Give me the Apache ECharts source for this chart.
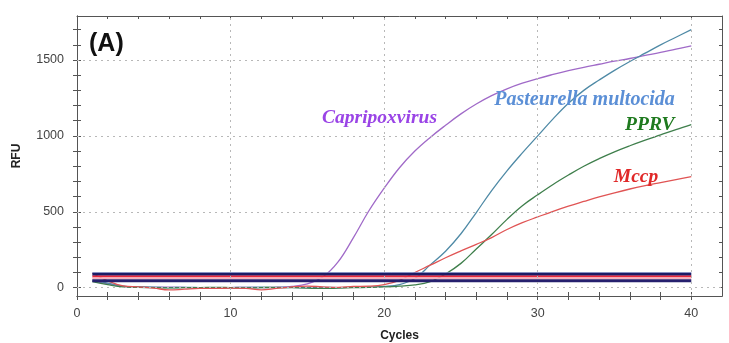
<!DOCTYPE html>
<html>
<head>
<meta charset="utf-8">
<script src="https://cdn.jsdelivr.net/npm/echarts@6/dist/echarts.min.js"></script>
<style>html,body{margin:0;padding:0;background:#fff;}#c{width:729px;height:343px;}</style>
</head>
<body>
<div id="c"></div>
<script>
const cycles = [1,2,3,4,5,6,7,8,9,10,11,12,13,14,15,16,17,18,19,20,21,22,23,24,25,26,27,28,29,30,31,32,33,34,35,36,37,38,39,40];
const capripoxvirus = [45,25,8,3,2,4,2,-3,-2,0,2,0,3,8,25,70,170,330,505,655,790,900,990,1070,1145,1210,1265,1310,1347,1378,1405,1430,1452,1472,1492,1510,1530,1550,1572,1593];
const pasteurella = [50,30,10,5,3,0,2,0,-2,0,2,3,0,2,0,2,0,3,5,8,20,60,150,240,355,495,640,770,888,1000,1112,1215,1300,1368,1432,1490,1545,1600,1650,1700];
const pprv = [40,20,5,2,0,-2,0,0,2,0,-2,0,2,0,-3,-5,-3,0,2,5,10,18,40,90,160,255,350,450,540,612,680,742,800,850,895,935,972,1007,1042,1075];
const mccp = [95,45,12,5,-3,-15,-10,-5,-5,-3,-5,-15,-5,5,10,5,2,8,10,20,48,100,148,197,242,285,330,383,428,466,503,537,568,598,625,650,672,692,712,732];
const thresholds = [98, 88, 74, 62, 46];
const thresholdColors = ['#8fa0d8', '#1c1c66', '#e8283c', '#f6b4c0', '#26206e'];
const thresholdWidths = [1, 3, 2, 2, 3];
const yTicks = [0, 500, 1000, 1500];
const yMinorTicks = [0,100,200,300,400,500,600,700,800,900,1000,1100,1200,1300,1400,1500,1600,1700];
const xTicks = [0, 10, 20, 30, 40];
const xMinorTicks = [0,2,4,6,8,10,12,14,16,18,20,22,24,26,28,30,32,34,36,38,40];

const pairs = v => cycles.map((c, i) => [c, v[i]]);
const font = 'Liberation Sans, Arial, sans-serif';
const labelFont = 'Liberation Serif, Times New Roman, serif';

const chart = echarts.init(document.getElementById('c'), null, {renderer: 'canvas'});

const axisLine = {show: true, onZero: false, lineStyle: {color: '#555', width: 1}};
const ySpan = {min: -55, max: 1790};
const xSpan = {min: 0, max: 42};

const gridLines = [];
yTicks.forEach(v => gridLines.push({yAxis: v}));
xTicks.filter(v => v > 0).forEach(v => gridLines.push({xAxis: v}));

function curve(name, data, color, lbl, coord, lblColor, size) {
  return {
    name, type: 'line', data: pairs(data), smooth: 0.4, showSymbol: false,
    lineStyle: {color, width: 1.3}, z: 3,
    markPoint: {
      symbol: 'circle', symbolSize: 0, silent: true,
      data: [{coord, label: {show: true, formatter: lbl, color: lblColor, fontFamily: labelFont,
        fontStyle: 'italic', fontWeight: 'bold', fontSize: size, position: 'inside'}}]
    }
  };
}

const series = [
  {
    type: 'line', data: [], silent: true,
    markLine: {silent: true, symbol: 'none', label: {show: false},
      lineStyle: {color: '#b8b8b8', type: [2, 4], width: 1}, data: gridLines}
  },
  curve('Capripoxvirus', capripoxvirus, '#a06ac8', 'Capripoxvirus', [19.7, 1119], '#9a44e6', 19.5),
  curve('Pasteurella multocida', pasteurella, '#4f8aa6', 'Pasteurella multocida', [33.05, 1237], '#5b8fd6', 20),
  curve('PPRV', pprv, '#3f7f4c', 'PPRV', [37.3, 1072], '#1f7a1f', 19.5),
  curve('Mccp', mccp, '#e05454', 'Mccp', [36.4, 730], '#e02828', 19.5),
];
thresholds.forEach((t, i) => {
  series.push({
    type: 'line', data: [[cycles[0], t], [cycles[cycles.length - 1], t]], showSymbol: false, silent: true,
    lineStyle: {color: thresholdColors[i], width: thresholdWidths[i]}, z: 4
  });
});

const plain = v => String(v);

chart.setOption({
  animation: false,
  backgroundColor: '#fff',
  title: {text: '(A)', left: 84, top: 27, textStyle: {fontFamily: font, fontSize: 25, fontWeight: 'bold', color: '#111'}},
  grid: {left: 77, right: 7, top: 16, bottom: 47, containLabel: false, outerBoundsMode: 'none'},
  xAxis: [
    Object.assign({type: 'value', position: 'bottom', name: 'Cycles', nameLocation: 'middle', nameGap: 34,
      nameTextStyle: {fontFamily: font, fontSize: 12, fontWeight: 'bold', color: '#222'},
      axisLine,
      axisTick: {show: true, inside: false, length: 4, customValues: xMinorTicks, lineStyle: {color: '#555'}},
      axisLabel: {customValues: xTicks, formatter: plain, fontFamily: font, fontSize: 12.5, color: '#444', margin: 11},
      splitLine: {show: false}}, xSpan),
    Object.assign({type: 'value', position: 'bottom', axisLine,
      axisTick: {show: true, inside: true, length: 4, customValues: xMinorTicks, lineStyle: {color: '#555'}},
      axisLabel: {show: false}, splitLine: {show: false}}, xSpan),
    Object.assign({type: 'value', position: 'top', axisLine,
      axisTick: {show: true, inside: true, length: 3, customValues: xMinorTicks, lineStyle: {color: '#555'}},
      axisLabel: {show: false}, splitLine: {show: false}}, xSpan)
  ],
  yAxis: [
    Object.assign({type: 'value', position: 'left', name: 'RFU', nameLocation: 'middle', nameGap: 54, nameRotate: 90,
      nameTextStyle: {fontFamily: font, fontSize: 12, fontWeight: 'bold', color: '#222'},
      axisLine,
      axisTick: {show: true, inside: false, length: 4, customValues: yMinorTicks, lineStyle: {color: '#555'}},
      axisLabel: {customValues: yTicks, formatter: plain, fontFamily: font, fontSize: 12.5, color: '#444', margin: 13},
      splitLine: {show: false}}, ySpan),
    Object.assign({type: 'value', position: 'left', axisLine,
      axisTick: {show: true, inside: true, length: 4, customValues: yMinorTicks, lineStyle: {color: '#555'}},
      axisLabel: {show: false}, splitLine: {show: false}}, ySpan),
    Object.assign({type: 'value', position: 'right', axisLine,
      axisTick: {show: true, inside: true, length: 3, customValues: yMinorTicks, lineStyle: {color: '#555'}},
      axisLabel: {show: false}, splitLine: {show: false}}, ySpan)
  ],
  series
});
</script>
</body>
</html>
